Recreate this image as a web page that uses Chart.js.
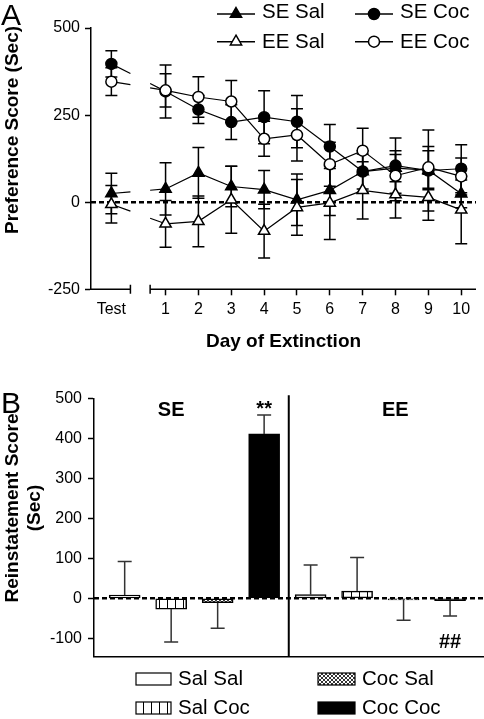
<!DOCTYPE html>
<html>
<head>
<meta charset="utf-8">
<script src="https://cdn.jsdelivr.net/npm/chart.js@4.4.1/dist/chart.umd.min.js"></script>
<style>
  html, body { margin: 0; padding: 0; background: #fff; }
  #wrap { position: relative; width: 484px; height: 719px; overflow: hidden; }
  .panel { position: absolute; left: 0; width: 484px; }
  #panelA { top: 0; height: 360px; }
  #panelB { top: 360px; height: 359px; }
</style>
</head>
<body>
<div id="wrap">
  <div class="panel" id="panelA"><canvas id="chartA"></canvas></div>
  <div class="panel" id="panelB"><canvas id="chartB"></canvas></div>
</div>
<script>
const FONT = '"Liberation Sans", Arial, Helvetica, sans-serif';

// ---- Panel A data: preference score (sec) on test day and extinction days
const xLabels = ['Test', '1', '2', '3', '4', '5', '6', '7', '8', '9', '10'];
const seSal    = [25, 38, 84, 45, 36, 7, 34, 88, 98, 92, 24];
const seSalErr = [58, 75, 73, 58, 55, 74, 72, 60, 39, 56, 40];
const seCoc    = [397, 318, 266, 230, 244, 231, 160, 88, 105, 91, 96];
const seCocErr = [38, 76, 40, 50, 76, 75, 63, 50, 79, 116, 69];
const eeSal    = [-6, -62, -55, 7, -83, -15, -2, 34, 22, 14, -22];
const eeSalErr = [54, 67, 73, 96, 77, 80, 105, 82, 67, 66, 97];
const eeCoc    = [346, 321, 302, 289, 182, 193, 109, 148, 76, 100, 74];
const eeCocErr = [40, 48, 58, 60, 50, 75, 63, 64, 72, 60, 53];
const yTicksA  = [-250, 0, 250, 500];

// ---- Panel B data: reinstatement score (sec)
const treatments = ['Sal Sal', 'Sal Coc', 'Coc Sal', 'Coc Coc'];
const housing    = ['SE', 'EE'];
const seMeans = [8, -27, -11, 411];
const seErrs  = [84, 82, 64, 47];
const eeMeans = [9, 18, -4, -6];
const eeErrs  = [74, 84, 51, 38];
const yTicksB = [-100, 0, 100, 200, 300, 400, 500];

// test day sits left of day 1, the axis is broken between them
const TEST_X = -0.65;
const AXIS_BREAK = [-0.07, 0.53];
const xPos = xLabels.map((l, i) => (i === 0 ? TEST_X : Number(l)));

function breakDash(ctx) {
  if (ctx.p0DataIndex !== 0) return [];
  const xs = ctx.chart.scales.x;
  const a = xs.getPixelForValue(AXIS_BREAK[0]);
  const b = xs.getPixelForValue(AXIS_BREAK[1]);
  const p0 = ctx.p0, p1 = ctx.p1;
  const len = Math.hypot(p1.x - p0.x, p1.y - p0.y);
  const k = len / (p1.x - p0.x);
  return [(a - p0.x) * k, (b - a) * k, len];
}

function drawMarker(ctx, style, filled, x, y) {
  ctx.beginPath();
  if (style === 'triangle') {
    const r = 6.5;
    ctx.moveTo(x, y - r);
    ctx.lineTo(x + 0.866 * r, y + 0.5 * r);
    ctx.lineTo(x - 0.866 * r, y + 0.5 * r);
    ctx.closePath();
  } else {
    ctx.arc(x, y, 5.5, 0, Math.PI * 2);
  }
  ctx.fillStyle = filled ? '#000' : '#fff';
  ctx.fill();
  ctx.lineWidth = 1.5;
  ctx.strokeStyle = '#000';
  ctx.stroke();
}

function lineSeries(label, vals, errs, style, filled, order) {
  return {
    label,
    data: vals.map((v, i) => ({ x: xPos[i], y: v })),
    errors: errs,
    markerStyle: style,
    filled,
    order,
    borderColor: '#000',
    borderWidth: 1.2,
    pointStyle: style,
    pointRadius: style === 'triangle' ? 6.5 : 5.5,
    pointBackgroundColor: filled ? '#000' : '#fff',
    pointBorderColor: '#000',
    pointBorderWidth: 1.5,
    tension: 0,
    segment: { borderDash: breakDash }
  };
}

const panelAPlugin = {
  id: 'panelA',
  beforeDatasetsDraw(chart) {
    const { ctx, chartArea, scales: { x, y } } = chart;
    ctx.save();
    // zero reference
    ctx.strokeStyle = '#000';
    ctx.lineWidth = 2.5;
    ctx.setLineDash([5, 3]);
    ctx.beginPath();
    ctx.moveTo(chartArea.left, y.getPixelForValue(0));
    ctx.lineTo(chartArea.right, y.getPixelForValue(0));
    ctx.stroke();
    ctx.setLineDash([]);
    // error bars
    ctx.lineWidth = 1.5;
    chart.data.datasets.forEach(ds => {
      ds.data.forEach((p, i) => {
        const e = ds.errors[i];
        const px = x.getPixelForValue(p.x);
        const t = y.getPixelForValue(p.y + e);
        const b = y.getPixelForValue(p.y - e);
        ctx.beginPath();
        ctx.moveTo(px, t); ctx.lineTo(px, b);
        ctx.moveTo(px - 6, t); ctx.lineTo(px + 6, t);
        ctx.moveTo(px - 6, b); ctx.lineTo(px + 6, b);
        ctx.stroke();
      });
    });
    ctx.restore();
  },
  afterDraw(chart) {
    const { ctx, chartArea, scales: { x } } = chart;
    const yb = chartArea.bottom;
    const a = x.getPixelForValue(AXIS_BREAK[0]);
    const b = x.getPixelForValue(AXIS_BREAK[1]);
    ctx.save();
    ctx.strokeStyle = '#000';
    ctx.lineWidth = 1.5;
    ctx.beginPath();
    ctx.moveTo(chartArea.left, yb); ctx.lineTo(a, yb);
    ctx.moveTo(a, yb - 4.5); ctx.lineTo(a, yb + 4.5);
    ctx.moveTo(b, yb - 4.5); ctx.lineTo(b, yb + 4.5);
    ctx.moveTo(b, yb); ctx.lineTo(chartArea.right, yb);
    ctx.stroke();

    // panel letter
    ctx.fillStyle = '#000';
    ctx.font = '30px ' + FONT;
    ctx.textAlign = 'left';
    ctx.textBaseline = 'alphabetic';
    ctx.fillText('A', 1, 24.5);

    // y title
    ctx.save();
    ctx.translate(13, 130);
    ctx.rotate(-Math.PI / 2);
    ctx.font = 'bold 19px ' + FONT;
    ctx.textAlign = 'center';
    ctx.textBaseline = 'middle';
    ctx.fillText('Preference Score (Sec)', 0, 0);
    ctx.restore();

    // legend, 2 x 2
    const cols = [217, 355];
    const rows = [14, 41.7];
    const base = [18.3, 48.3];
    const items = [
      chart.data.datasets.find(d => d.label === 'SE Sal'),
      chart.data.datasets.find(d => d.label === 'SE Coc'),
      chart.data.datasets.find(d => d.label === 'EE Sal'),
      chart.data.datasets.find(d => d.label === 'EE Coc')
    ];
    ctx.font = '20.5px ' + FONT;
    ctx.textAlign = 'left';
    items.forEach((ds, i) => {
      const cx = cols[i % 2], r = Math.floor(i / 2);
      const cy = rows[r];
      ctx.strokeStyle = '#000';
      ctx.lineWidth = 1.5;
      ctx.beginPath();
      ctx.moveTo(cx, cy); ctx.lineTo(cx + 38, cy);
      ctx.stroke();
      drawMarker(ctx, ds.markerStyle, ds.filled, cx + 19, cy);
      ctx.fillStyle = '#000';
      ctx.fillText(ds.label, cx + 45, base[r]);
    });
    ctx.restore();
  }
};

new Chart(document.getElementById('chartA'), {
  type: 'line',
  data: {
    datasets: [
      lineSeries('SE Sal', seSal, seSalErr, 'triangle', true, 3),
      lineSeries('SE Coc', seCoc, seCocErr, 'circle', true, 1),
      lineSeries('EE Sal', eeSal, eeSalErr, 'triangle', false, 2),
      lineSeries('EE Coc', eeCoc, eeCocErr, 'circle', false, 0)
    ]
  },
  options: {
    responsive: true,
    maintainAspectRatio: false,
    animation: false,
    layout: { padding: { top: 28, right: 2, bottom: 0, left: 0 } },
    plugins: { legend: { display: false }, tooltip: { enabled: false } },
    scales: {
      x: {
        type: 'linear',
        min: -1.27,
        max: 10.45,
        afterFit: s => { s.height = 70.7; },
        afterBuildTicks: s => { s.ticks = xPos.map(v => ({ value: v })); },
        ticks: {
          callback: (v, i) => xLabels[i],
          autoSkip: false,
          maxRotation: 0,
          padding: 5,
          color: '#000',
          font: { family: FONT, size: 16 }
        },
        grid: {
          drawOnChartArea: false,
          tickLength: 6,
          tickWidth: 1.5,
          tickColor: c => (c.index === 0 ? 'rgba(0,0,0,0)' : '#000')
        },
        border: { display: false },
        title: {
          display: true,
          text: 'Day of Extinction',
          color: '#000',
          font: { family: FONT, size: 19, weight: 'bold' },
          padding: { top: 0, bottom: 7 }
        }
      },
      y: {
        min: -250,
        max: 500,
        afterFit: s => { s.width = 91; },
        afterBuildTicks: s => { s.ticks = yTicksA.map(v => ({ value: v })); },
        ticks: { padding: 5, color: '#000', font: { family: FONT, size: 16 } },
        grid: { drawOnChartArea: false, tickLength: 6, tickWidth: 1.5, tickColor: '#000' },
        border: { color: '#000', width: 1.5 }
      }
    }
  },
  plugins: [panelAPlugin]
});

// ---- Panel B
function makePattern(kind) {
  const c = document.createElement('canvas');
  const g = c.getContext('2d');
  if (kind === 'white' || kind === 'black') return kind === 'white' ? '#fff' : '#000';
  if (kind === 'vert') {
    c.width = 8; c.height = 8;
    g.fillStyle = '#fff'; g.fillRect(0, 0, 8, 8);
    g.fillStyle = '#000'; g.fillRect(7, 0, 1.3, 8);
  } else {
    c.width = 4; c.height = 4;
    g.fillStyle = '#fff'; g.fillRect(0, 0, 4, 4);
    g.strokeStyle = '#000'; g.lineWidth = 0.8;
    g.beginPath();
    g.moveTo(0, 0); g.lineTo(4, 4);
    g.moveTo(4, 0); g.lineTo(0, 4);
    g.stroke();
  }
  return g.createPattern(c, 'repeat');
}
const fills = [makePattern('white'), makePattern('vert'), makePattern('hatch'), makePattern('black')];

const barDatasets = treatments.map((t, i) => ({
  label: t,
  data: [{ x: i, y: seMeans[i] }, { x: 4 + i, y: eeMeans[i] }],
  errors: [seErrs[i], eeErrs[i]],
  backgroundColor: fills[i],
  borderColor: '#000',
  borderWidth: 1.5,
  borderSkipped: false,
  barThickness: 31,
  grouped: false
}));

const panelBPlugin = {
  id: 'panelB',
  afterDatasetsDraw(chart) {
    const { ctx, chartArea, scales: { x, y } } = chart;
    ctx.save();
    // zero reference
    ctx.strokeStyle = '#000';
    ctx.lineWidth = 2.5;
    ctx.setLineDash([5, 3]);
    ctx.beginPath();
    ctx.moveTo(chartArea.left, y.getPixelForValue(0));
    ctx.lineTo(chartArea.right, y.getPixelForValue(0));
    ctx.stroke();
    ctx.setLineDash([]);
    // one-sided error bars
    ctx.strokeStyle = '#333';
    ctx.lineWidth = 1.5;
    chart.data.datasets.forEach(ds => {
      ds.data.forEach((p, i) => {
        const end = p.y + Math.sign(p.y) * ds.errors[i];
        const px = x.getPixelForValue(p.x);
        const y0 = y.getPixelForValue(p.y);
        const y1 = y.getPixelForValue(end);
        ctx.beginPath();
        ctx.moveTo(px, y0); ctx.lineTo(px, y1);
        ctx.moveTo(px - 7, y1); ctx.lineTo(px + 7, y1);
        ctx.stroke();
      });
    });
    // divider between housing groups
    ctx.strokeStyle = '#000';
    ctx.lineWidth = 2;
    const dx = x.getPixelForValue(3.53);
    ctx.beginPath();
    ctx.moveTo(dx, chartArea.top - 3);
    ctx.lineTo(dx, chartArea.bottom);
    ctx.stroke();

    // group labels and significance marks
    ctx.fillStyle = '#000';
    ctx.font = 'bold 20px ' + FONT;
    ctx.textAlign = 'center';
    ctx.textBaseline = 'middle';
    ctx.fillText(housing[0], x.getPixelForValue(1), y.getPixelForValue(470));
    ctx.fillText(housing[1], x.getPixelForValue(5.82), y.getPixelForValue(470));
    ctx.fillText('##', x.getPixelForValue(7), y.getPixelForValue(-110));
    ctx.textBaseline = 'alphabetic';
    ctx.fillText('**', x.getPixelForValue(3), y.getPixelForValue(seMeans[3] + seErrs[3]));

    // panel letter
    ctx.textAlign = 'left';
    ctx.font = '30px ' + FONT;
    ctx.fillText('B', 1, 53.2);

    // y title, two lines
    ctx.font = 'bold 19px ' + FONT;
    ctx.textAlign = 'center';
    ctx.textBaseline = 'middle';
    [['Reinstatement Score', 13], ['(Sec)', 35]].forEach(([txt, cx]) => {
      ctx.save();
      ctx.translate(cx, 148);
      ctx.rotate(-Math.PI / 2);
      ctx.fillText(txt, 0, 0);
      ctx.restore();
    });

    // legend, 2 x 2
    const order = [0, 2, 1, 3];
    const cols = [[136, 35, 178], [318, 37, 362]];
    const rows = [325, 354];
    ctx.font = '20.5px ' + FONT;
    ctx.textAlign = 'left';
    ctx.textBaseline = 'alphabetic';
    order.forEach((ti, k) => {
      const [bx, bw, tx] = cols[k % 2];
      const by = rows[Math.floor(k / 2)];
      ctx.fillStyle = fills[ti];
      ctx.fillRect(bx, by - 12, bw, 12);
      ctx.strokeStyle = '#000';
      ctx.lineWidth = 1.2;
      ctx.strokeRect(bx, by - 12, bw, 12);
      ctx.fillStyle = '#000';
      ctx.fillText(treatments[ti], tx, by);
    });
    ctx.restore();
  }
};

new Chart(document.getElementById('chartB'), {
  type: 'bar',
  data: { datasets: barDatasets },
  options: {
    responsive: true,
    maintainAspectRatio: false,
    animation: false,
    layout: { padding: { top: 38.3, right: 0, bottom: 62.3, left: 0 } },
    plugins: { legend: { display: false }, tooltip: { enabled: false } },
    scales: {
      x: {
        type: 'linear',
        min: -0.66,
        max: 7.73,
        offset: false,
        afterFit: s => { s.height = 0; },
        ticks: { display: false },
        grid: { display: false },
        border: { color: '#000', width: 1.5 }
      },
      y: {
        min: -146,
        max: 500,
        afterFit: s => { s.width = 94; },
        afterBuildTicks: s => { s.ticks = yTicksB.map(v => ({ value: v })); },
        ticks: { padding: 6, color: '#000', font: { family: FONT, size: 16 } },
        grid: { drawOnChartArea: false, tickLength: 6, tickWidth: 1.5, tickColor: '#000' },
        border: { color: '#000', width: 1.5 }
      }
    }
  },
  plugins: [panelBPlugin]
});
</script>
</body>
</html>
